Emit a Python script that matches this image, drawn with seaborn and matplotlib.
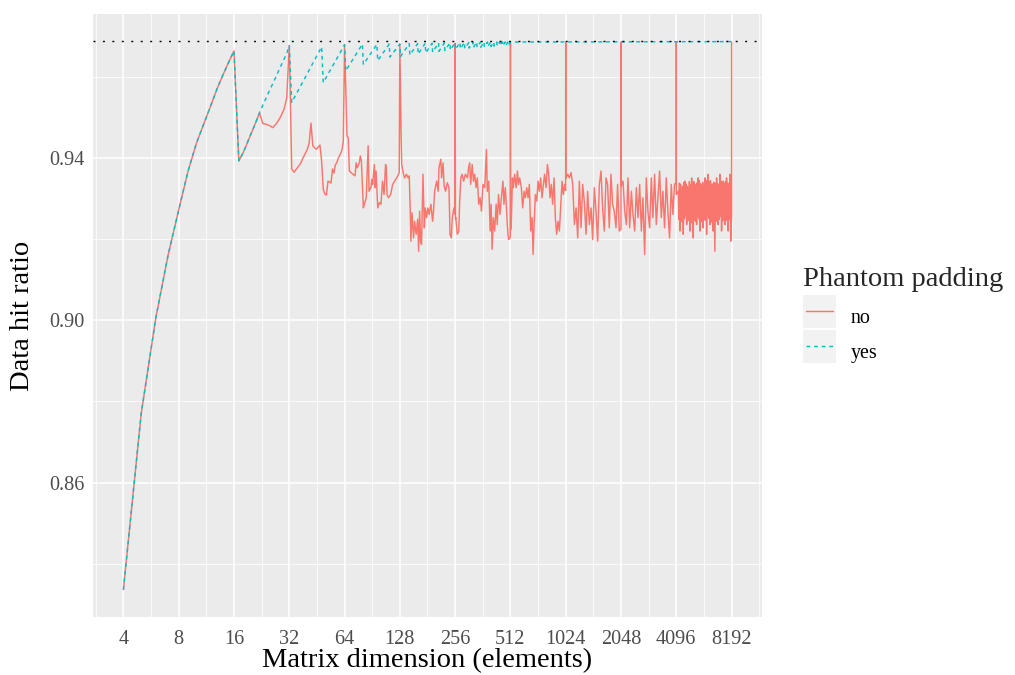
import numpy as np
import pandas as pd
import matplotlib
matplotlib.use("Agg")
import matplotlib.pyplot as plt
import seaborn as sns
from matplotlib.legend_handler import HandlerLine2D
from matplotlib.patches import Rectangle
from matplotlib.lines import Line2D
from matplotlib.ticker import FixedLocator, NullFormatter

# ---------------- data ----------------
x_ticks = [4, 8, 16, 32, 64, 128, 256, 512, 1024, 2048, 4096, 8192]
x_tick_labels = ["4", "8", "16", "32", "64", "128", "256", "512", "1024", "2048", "4096", "8192"]
y_ticks = [0.86, 0.90, 0.94]
y_tick_labels = ["0.86", "0.90", "0.94"]
y_minor_ticks = [0.84, 0.88, 0.92, 0.96]
ideal_ratio = 0.96875

# "no" padding series
no_n_a = list(range(4, 64))
no_v_a = [0.8336, 0.8770, 0.9005, 0.9160, 0.9272, 0.9368, 0.9437, 0.9486, 0.9531, 0.9573,
          0.9607, 0.9637, 0.9664, 0.9393, 0.9414, 0.9440, 0.9464, 0.9487, 0.9511, 0.9485,
          0.9483, 0.9480, 0.9475, 0.9483, 0.9493, 0.9506, 0.9521, 0.9548, 0.9677, 0.9373,
          0.9365, 0.9373, 0.9380, 0.9388, 0.9400, 0.9410, 0.9420, 0.9435, 0.9486, 0.9430,
          0.9425, 0.9422, 0.9427, 0.9432, 0.9393, 0.9323, 0.9311, 0.9309, 0.9343, 0.9341,
          0.9338, 0.9373, 0.9363, 0.9383, 0.9388, 0.9398, 0.9405, 0.9412, 0.9420, 0.9442]

no_n_b = [64, 66, 67, 68, 71, 73, 74, 75, 77, 78, 79, 81, 82, 84, 86, 87, 89, 90, 91, 93,
          94, 95, 97, 99, 101, 103, 105, 107, 108, 109, 111, 114, 117, 120, 123, 126, 127]
no_v_b = [0.9680, 0.9454, 0.9450, 0.9368, 0.9360, 0.9356, 0.9388, 0.9376, 0.9388, 0.9405,
          0.9393, 0.9277, 0.9286, 0.9302, 0.9430, 0.9318, 0.9327, 0.9347, 0.9335, 0.9384,
          0.9327, 0.9368, 0.9277, 0.9290, 0.9286, 0.9343, 0.9310, 0.9384, 0.9376, 0.9310,
          0.9302, 0.9310, 0.9335, 0.9343, 0.9351, 0.9360, 0.9365]

no_n_c = [128, 130, 131, 134, 136, 139, 142, 144, 146, 147, 149, 152, 154, 157, 160, 162,
          164, 166, 168, 171, 174, 176, 179, 182, 185, 189, 193, 195, 198, 203, 207, 209,
          214, 216, 220, 223, 227, 232, 237, 240, 244, 247, 252, 255]
no_v_c = [0.9681, 0.9459, 0.9384, 0.9360, 0.9351, 0.9360, 0.9351, 0.9356, 0.9261, 0.9195,
          0.9265, 0.9203, 0.9244, 0.9212, 0.9249, 0.9170, 0.9269, 0.9195, 0.9187, 0.9360,
          0.9228, 0.9277, 0.9253, 0.9277, 0.9261, 0.9286, 0.9244, 0.9265, 0.9318, 0.9343,
          0.9318, 0.9376, 0.9397, 0.9351, 0.9388, 0.9331, 0.9318, 0.9339, 0.9327, 0.9212,
          0.9203, 0.9253, 0.9277, 0.9262]

no_n_d = [256, 257, 258, 263, 268, 271, 275, 279, 285, 291, 299, 303, 307, 311, 317, 322, 327,
          333, 338, 344, 350, 356, 363, 371, 379, 383, 390, 397, 402, 407, 413, 420, 428,
          434, 441, 449, 457, 466, 472, 480, 486, 492, 500, 511]
no_v_d = [0.9683, 0.9250, 0.9253, 0.9212, 0.9220, 0.9294, 0.9351, 0.9360, 0.9343, 0.9360,
          0.9351, 0.9376, 0.9388, 0.9335, 0.9384, 0.9343, 0.9360, 0.9327, 0.9351, 0.9286,
          0.9302, 0.9269, 0.9335, 0.9327, 0.9421, 0.9318, 0.9343, 0.9220, 0.9286, 0.9175,
          0.9253, 0.9220, 0.9286, 0.9236, 0.9310, 0.9261, 0.9302, 0.9343, 0.9286, 0.9327,
          0.9286, 0.9236, 0.9199, 0.9205]

no_n_e = [512, 513, 518, 525, 531, 540, 550, 559, 566, 575, 587, 597, 608, 618, 628, 639, 649,
          660, 672, 680, 689, 700, 712, 724, 736, 748, 761, 774, 786, 800, 814, 827, 841,
          855, 869, 885, 899, 914, 930, 946, 961, 978, 994, 1011, 1023]
no_v_e = [0.9684, 0.9222, 0.9244, 0.9351, 0.9327, 0.9360, 0.9327, 0.9368, 0.9335, 0.9351,
          0.9327, 0.9277, 0.9318, 0.9302, 0.9327, 0.9302, 0.9335, 0.9220, 0.9253, 0.9162,
          0.9236, 0.9310, 0.9294, 0.9343, 0.9318, 0.9351, 0.9302, 0.9335, 0.9360, 0.9327,
          0.9384, 0.9360, 0.9302, 0.9335, 0.9286, 0.9351, 0.9253, 0.9212, 0.9244, 0.9220,
          0.9277, 0.9343, 0.9310, 0.9335, 0.9320]

no_n_f = [1024, 1025, 1050, 1072, 1095, 1118, 1142, 1166, 1190, 1215, 1241, 1266, 1294, 1321,
          1348, 1377, 1407, 1435, 1466, 1497, 1528, 1561, 1594, 1626, 1661, 1697, 1731, 1768,
          1806, 1843, 1882, 1923, 1962, 2004, 2047]
no_v_f = [0.9685, 0.9350, 0.9360, 0.9351, 0.9364, 0.9335, 0.9236, 0.9277, 0.9203, 0.9343,
          0.9228, 0.9335, 0.9290, 0.9212, 0.9318, 0.9236, 0.9277, 0.9199, 0.9327, 0.9269,
          0.9195, 0.9335, 0.9368, 0.9277, 0.9220, 0.9351, 0.9335, 0.9228, 0.9360, 0.9286,
          0.9269, 0.9228, 0.9335, 0.9220, 0.9225]

no_n_g = [2048, 2049, 2100, 2145, 2191, 2235, 2283, 2332, 2379, 2431, 2483, 2533, 2587, 2643,
          2696, 2754, 2813, 2870, 2932, 2995, 3055, 3121, 3188, 3252, 3322, 3394, 3462, 3536,
          3612, 3685, 3764, 3846, 3923, 4007, 4095]
no_v_g = [0.9686, 0.9330, 0.9343, 0.9269, 0.9236, 0.9351, 0.9228, 0.9318, 0.9261, 0.9220,
          0.9327, 0.9253, 0.9335, 0.9220, 0.9302, 0.9162, 0.9351, 0.9269, 0.9228, 0.9351,
          0.9253, 0.9360, 0.9236, 0.9302, 0.9368, 0.9253, 0.9318, 0.9228, 0.9351, 0.9269,
          0.9203, 0.9335, 0.9261, 0.9335, 0.9340]

no_n_h = [4096, 4097, 4200, 4290, 4382, 4470, 4567, 4665, 4759, 4861, 4965, 5066, 5174, 5285,
          5392, 5508, 5627, 5740, 5864, 5989, 6111, 6242, 6376, 6504, 6644, 6789, 6924, 7073,
          7225, 7371, 7529, 7691, 7846, 8015, 8100, 8191, 8192]
no_v_h = [0.9686, 0.9310, 0.9318, 0.9220, 0.9327, 0.9212, 0.9343, 0.9236, 0.9327, 0.9220,
          0.9351, 0.9203, 0.9335, 0.9236, 0.9351, 0.9220, 0.9335, 0.9228, 0.9351, 0.9212,
          0.9360, 0.9236, 0.9335, 0.9220, 0.9170, 0.9351, 0.9236, 0.9360, 0.9220, 0.9343,
          0.9236, 0.9351, 0.9220, 0.9360, 0.9195, 0.9260, 0.9686]

# the dense inner band of the last octave
no_n_h2 = [4230, 4260, 4320, 4351, 4411, 4441, 4502, 4535, 4600, 4632, 4696, 4728, 4793, 4827,
           4896, 4930, 4999, 5032, 5102, 5138, 5211, 5248, 5321, 5356, 5431, 5469, 5548, 5587,
           5665, 5702, 5781, 5822, 5906, 5947, 6030, 6070, 6155, 6198, 6287, 6331, 6419, 6461,
           6551, 6597, 6692, 6740, 6834, 6879, 6974, 7023, 7124, 7174, 7274, 7322, 7424, 7476,
           7583, 7637, 7743, 7794, 7902, 7958, 8043, 8072]
no_v_h2 = [0.9248, 0.9338, 0.9335, 0.9255, 0.9242, 0.9331, 0.9340, 0.9250, 0.9258, 0.9336,
           0.9330, 0.9245, 0.9252, 0.9342, 0.9334, 0.9240, 0.9256, 0.9338, 0.9342, 0.9248,
           0.9244, 0.9332, 0.9339, 0.9257, 0.9250, 0.9344, 0.9336, 0.9243, 0.9254, 0.9340,
           0.9331, 0.9249, 0.9246, 0.9345, 0.9338, 0.9258, 0.9251, 0.9341, 0.9344, 0.9242,
           0.9255, 0.9336, 0.9340, 0.9247, 0.9338, 0.9244, 0.9252, 0.9337, 0.9333, 0.9249,
           0.9257, 0.9343, 0.9339, 0.9245, 0.9250, 0.9336, 0.9342, 0.9254, 0.9246, 0.9339,
           0.9337, 0.9251, 0.9248, 0.9334]

# "yes" padding series
yes_n = list(range(4, 33)) + [
    33, 48, 49, 64, 65, 80, 81, 96, 97, 112, 113, 128, 129, 144, 145, 160, 161, 176, 177,
    192, 193, 208, 209, 224, 225, 240, 241, 256, 257, 272, 273, 288, 289, 304, 305, 320,
    321, 336, 337, 352, 353, 368, 369, 384, 385, 400, 401, 416, 417, 432, 433, 448, 449,
    464, 465, 480, 481, 496, 497, 512, 8192]
yes_v = [0.8336, 0.8770, 0.9005, 0.9160, 0.9272, 0.9368, 0.9437, 0.9486, 0.9531, 0.9573,
         0.9607, 0.9637, 0.9664, 0.9393, 0.9414, 0.9440, 0.9464, 0.9487, 0.9511, 0.9531,
         0.9549, 0.9567, 0.9583, 0.9599, 0.9615, 0.9630, 0.9644, 0.9658, 0.9677,
         0.9537, 0.9674, 0.9586, 0.9679, 0.9615, 0.9681, 0.9631, 0.9680, 0.9640, 0.9681,
         0.9649, 0.9681, 0.9650, 0.9682, 0.9654, 0.9682, 0.9656, 0.9683, 0.9659, 0.9683,
         0.9661, 0.9684, 0.9663, 0.9684, 0.9665, 0.9684, 0.9666, 0.9685, 0.9668, 0.9685,
         0.9669, 0.9685, 0.9670, 0.9685, 0.9671, 0.9686, 0.9672, 0.9686, 0.9673, 0.9686,
         0.9673, 0.9686, 0.9674, 0.9686, 0.9675, 0.9686, 0.9675, 0.9686, 0.9676, 0.9686,
         0.9676, 0.9686, 0.9677, 0.9686, 0.9677, 0.9686, 0.9677, 0.9686, 0.9678, 0.9686,
         0.9687]

series_colors = {"no": "#F8766D", "yes": "#00BFC4"}

# ---------------- build frame ----------------
no_n = no_n_a + no_n_b + no_n_c + no_n_d + no_n_e + no_n_f + no_n_g + no_n_h + no_n_h2
no_v = no_v_a + no_v_b + no_v_c + no_v_d + no_v_e + no_v_f + no_v_g + no_v_h + no_v_h2
df = pd.DataFrame({
    "n": no_n + yes_n,
    "ratio": no_v + yes_v,
    "Phantom padding": ["no"] * len(no_n) + ["yes"] * len(yes_n),
})

# ---------------- style ----------------
sns.set_theme(style="darkgrid")
plt.rcParams["font.family"] = ["Liberation Serif", "DejaVu Serif"]
plt.rcParams["axes.facecolor"] = "#EBEBEB"

fig = plt.figure(figsize=(10.15, 6.75), dpi=100)
W, H = 1015, 675
ax = fig.add_axes([93 / W, 1 - 617 / H, (762 - 93) / W, (617 - 14) / H])
ax.set_facecolor("#EBEBEB")

sns.lineplot(data=df, x="n", y="ratio", hue="Phantom padding", style="Phantom padding",
             palette=series_colors, dashes={"no": "", "yes": (2.6, 2.6)},
             estimator=None, sort=True, linewidth=1.05, legend=False, ax=ax)
ax.axhline(ideal_ratio, color="black", linewidth=1.0, linestyle=(0, (1.4, 5.4)), zorder=5)

ax.set_xscale("log", base=2)
lo, hi = np.log2(min(df["n"])), np.log2(max(df["n"]))
pad = 0.05 * (hi - lo)
ax.set_xlim(2 ** (lo - pad), 2 ** (hi + pad))
ymin = min(df["ratio"])
ymax = max(max(df["ratio"]), ideal_ratio)
ypad = 0.05 * (ymax - ymin)
ax.set_ylim(ymin - ypad, ymax + ypad)

ax.set_xticks(x_ticks)
ax.set_xticklabels(x_tick_labels)
ax.xaxis.set_minor_locator(FixedLocator([2 ** (k + 0.5) for k in range(1, 14)]))
ax.xaxis.set_minor_formatter(NullFormatter())
ax.set_yticks(y_ticks)
ax.set_yticklabels(y_tick_labels)
ax.yaxis.set_minor_locator(FixedLocator(y_minor_ticks))
ax.yaxis.set_minor_formatter(NullFormatter())

ax.grid(which="major", color="white", linewidth=1.1)
ax.grid(which="minor", color="white", linewidth=0.55)
ax.set_axisbelow(True)
for s in ax.spines.values():
    s.set_visible(False)
ax.tick_params(which="major", length=3.0, width=0.8, color="#333333",
               labelcolor="#4D4D4D", labelsize=14.6, pad=3.0)
ax.tick_params(which="minor", length=0)
ax.tick_params(axis="x", pad=6.0)

ax.set_xlabel("Matrix dimension (elements)", fontsize=20.5, color="black")
ax.set_ylabel("Data hit ratio", fontsize=20.5, color="black")
ax.xaxis.label.set_verticalalignment("center")
ax.yaxis.label.set_verticalalignment("center")
ax.xaxis.set_label_coords(0.5, (617 - 661) / (617 - 14))
ax.yaxis.set_label_coords((23 - 93) / (762 - 93), 0.5)


# ---------------- legend ----------------
class KeyHandler(HandlerLine2D):
    def create_artists(self, legend, orig_handle, xdescent, ydescent, width, height,
                       fontsize, trans):
        arts = list(super().create_artists(legend, orig_handle, xdescent, ydescent, width,
                                           height, fontsize, trans))
        yc = (height - ydescent) / 2.0
        inset = 2.2
        arts[0].set_data([-xdescent + inset, -xdescent + width - inset], [yc, yc])
        side = width
        bg = Rectangle((-xdescent, yc - side / 2.0), side, side,
                       facecolor="#F2F2F2", edgecolor="none", transform=trans)
        return [bg, arts[0]]


handles = [
    Line2D([], [], color=series_colors["no"], linewidth=1.05),
    Line2D([], [], color=series_colors["yes"], linewidth=1.05, linestyle=(0, (2.6, 2.6))),
]
leg = fig.legend(handles, ["no", "yes"], title="Phantom padding", loc="upper left",
                 bbox_to_anchor=(788 / W, 1 - 252 / H), bbox_transform=fig.transFigure,
                 frameon=False, fontsize=14.4, title_fontsize=20.5, borderpad=0.75,
                 borderaxespad=0, handlelength=1.667, handleheight=2.19, labelspacing=0.08,
                 handletextpad=0.7, alignment="left",
                 handler_map={Line2D: KeyHandler()})
leg._legend_box.sep = leg._legend_box.sep + 4.5
for t in leg.get_texts():
    t.set_color("black")

fig.savefig("out.png", dpi=100)
